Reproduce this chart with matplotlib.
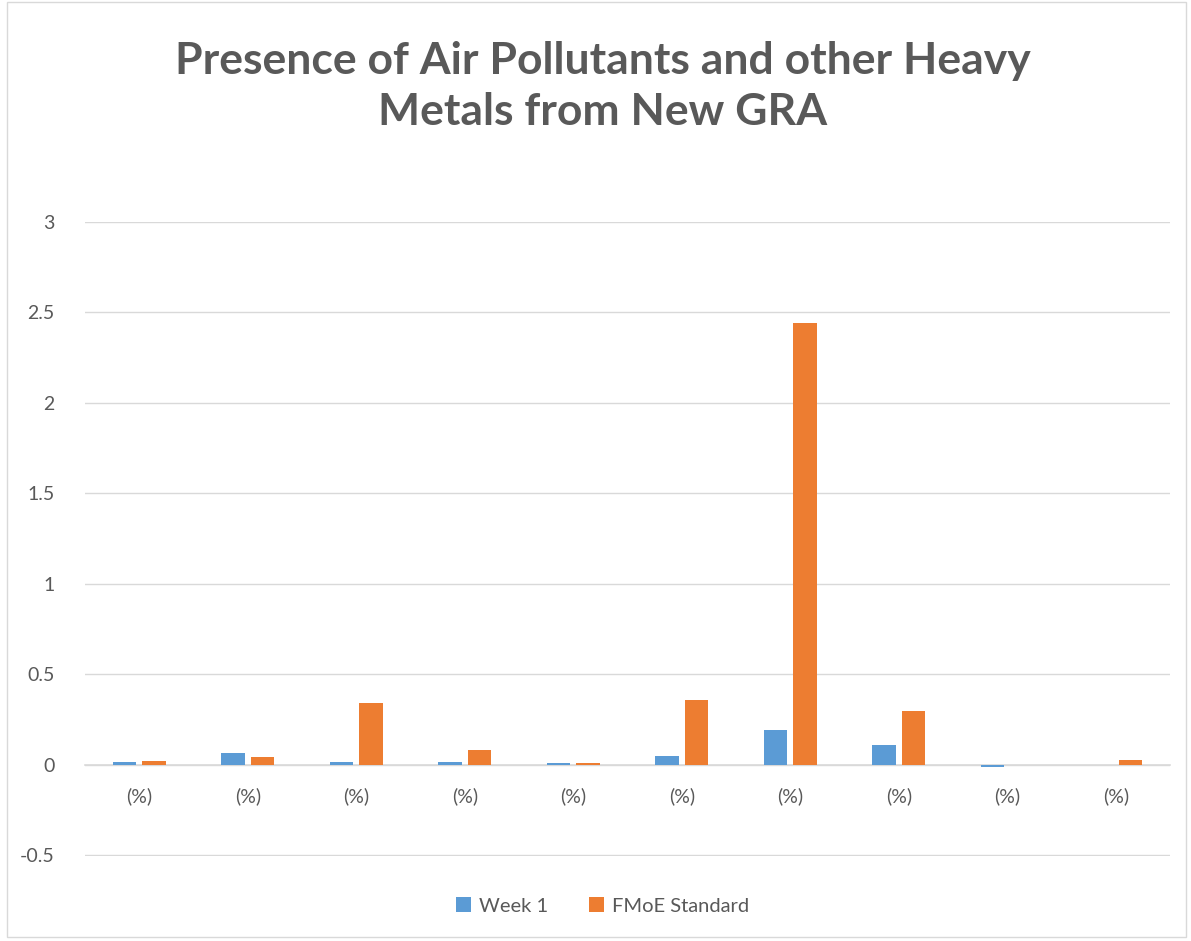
import matplotlib
matplotlib.use('Agg')
import matplotlib.pyplot as plt
import numpy as np
from matplotlib.patches import Rectangle

categories = ['(%)'] * 10
week1 = [0.015, 0.065, 0.015, 0.015, 0.007, 0.05, 0.19, 0.11, -0.015, 0.0]
fmoe = [0.018, 0.04, 0.34, 0.078, 0.007, 0.356, 2.44, 0.295, 0.0, 0.028]
yticks = [-0.5, 0, 0.5, 1, 1.5, 2, 2.5, 3]
ytick_labels = ['-0.5', '0', '0.5', '1', '1.5', '2', '2.5', '3']

grey = '#595959'
plt.rcParams['font.family'] = ['Lato', 'DejaVu Sans']

fig = plt.figure(figsize=(11.91, 9.41), dpi=100)
fig.patches.append(Rectangle((0.006, 0.004), 0.99, 0.994, transform=fig.transFigure,
                             fill=False, ec='#d9d9d9', lw=1))
ax = fig.add_axes([0.0714, 0.0904, 0.911, 0.6737])

x = np.arange(len(categories))
w = 0.217
ax.bar(x - 0.136, week1, w, color='#5B9BD5', label='Week 1', zorder=3)
ax.bar(x + 0.136, fmoe, w, color='#ED7D31', label='FMoE Standard', zorder=3)

ax.set_xlim(-0.5, len(categories) - 0.5)
ax.set_ylim(-0.505, 3.0)
ax.set_yticks(yticks)
ax.set_yticklabels(ytick_labels)
ax.set_xticks(x)
ax.set_xticklabels(categories)

ax.grid(axis='y', color='#d9d9d9', lw=1, zorder=0)
for s in ['top', 'right', 'left']:
    ax.spines[s].set_visible(False)
ax.spines['bottom'].set_position(('data', 0))
ax.spines['bottom'].set_color('#d9d9d9')
ax.spines['bottom'].set_linewidth(1.2)
ax.tick_params(axis='both', length=0, labelsize=14, colors=grey)
ax.tick_params(axis='x', pad=16)
ax.tick_params(axis='y', pad=22)

fig.text(0.506, 0.908, 'Presence of Air Pollutants and other Heavy\nMetals from New GRA',
         ha='center', va='center', fontsize=32, fontweight='bold', color=grey,
         linespacing=1.32)

leg = fig.legend(loc='center', bbox_to_anchor=(0.506, 0.037), ncol=2, frameon=False,
                 fontsize=14.5, handlelength=0.75, handleheight=0.75, columnspacing=2,
                 handletextpad=0.4)
for t in leg.get_texts():
    t.set_color(grey)

fig.savefig('out.png', dpi=100)
